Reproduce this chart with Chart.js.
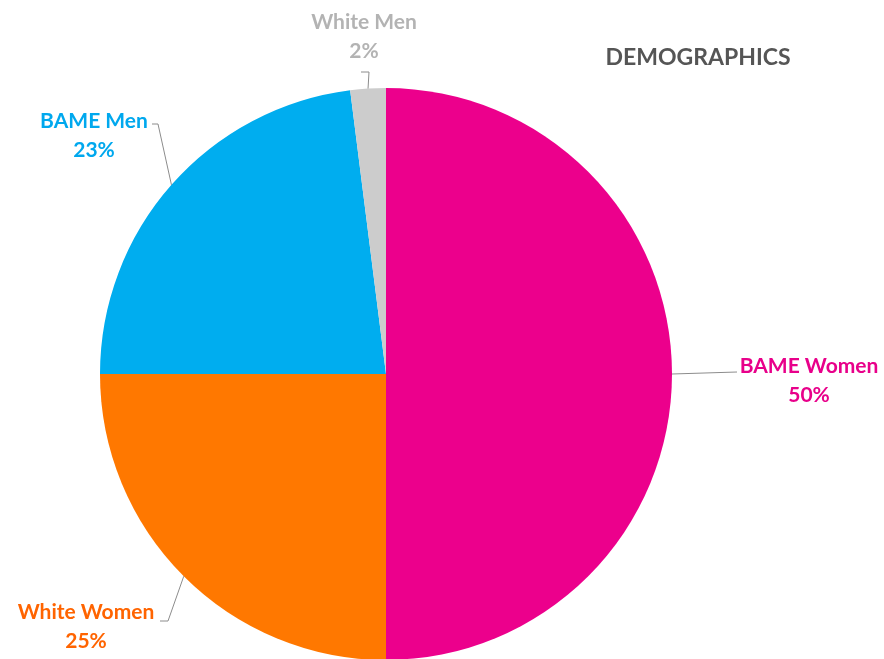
<!DOCTYPE html>
<html>
<head>
<meta charset="utf-8">
<script src="https://cdn.jsdelivr.net/npm/chart.js@4/dist/chart.umd.min.js"></script>
<style>
  html, body { margin: 0; padding: 0; background: #fff; overflow: hidden; }
  #wrap { width: 884px; height: 680px; position: relative; }
</style>
</head>
<body>
<div id="wrap"><canvas id="demo-chart"></canvas></div>
<script>
// Chart data
const categories = ['BAME Women', 'White Women', 'BAME Men', 'White Men'];
const shares = [50, 25, 23, 2];
const sliceColors = ['#ec008c', '#ff7800', '#00adef', '#cccccc'];
const labelColors = ['#e8008a', '#ff6400', '#00a8ee', '#b3b3b3'];

// label placement: text centre, plus elbow of leader line and where it meets the text
const labelSpots = [
  { tx: 809, ty: 366, elbow: null, end: [737, 372] },
  { tx: 86, ty: 612, elbow: [168, 621], end: [160, 621] },
  { tx: 94, ty: 121, elbow: [158, 124], end: [152, 124] },
  { tx: 364, ty: 22, elbow: [369, 72], end: [361, 72] }
];

const calloutPlugin = {
  id: 'callouts',
  afterDraw(chart) {
    const ctx = chart.ctx;
    const meta = chart.getDatasetMeta(0);
    ctx.save();
    meta.data.forEach((arc, i) => {
      const p = arc.getProps(['x', 'y', 'startAngle', 'endAngle', 'outerRadius'], true);
      const mid = (p.startAngle + p.endAngle) / 2;
      const sx = p.x + Math.cos(mid) * p.outerRadius;
      const sy = p.y + Math.sin(mid) * p.outerRadius;
      const spot = labelSpots[i];

      // leader line
      ctx.strokeStyle = '#8c8c8c';
      ctx.lineWidth = 1;
      ctx.beginPath();
      ctx.moveTo(sx, sy);
      if (spot.elbow) ctx.lineTo(spot.elbow[0], spot.elbow[1]);
      ctx.lineTo(spot.end[0], spot.end[1]);
      ctx.stroke();

      // text
      ctx.fillStyle = labelColors[i];
      ctx.font = 'bold 21px Lato';
      ctx.textAlign = 'center';
      ctx.textBaseline = 'middle';
      ctx.fillText(categories[i], spot.tx, spot.ty);
      ctx.fillText(shares[i] + '%', spot.tx, spot.ty + 29);
    });

    // title
    ctx.fillStyle = '#555555';
    ctx.font = 'bold 23px Lato';
    ctx.textAlign = 'center';
    ctx.fillText('DEMOGRAPHICS', 698, 58);
    ctx.restore();
  }
};

new Chart(document.getElementById('demo-chart'), {
  type: 'pie',
  data: {
    labels: categories,
    datasets: [{
      data: shares,
      backgroundColor: sliceColors,
      borderWidth: 0
    }]
  },
  options: {
    responsive: true,
    maintainAspectRatio: false,
    animation: false,
    layout: {
      padding: { left: 100, right: 212, top: 88, bottom: 20 }
    },
    plugins: {
      legend: { display: false },
      tooltip: { enabled: false }
    }
  },
  plugins: [calloutPlugin]
});
</script>
</body>
</html>
